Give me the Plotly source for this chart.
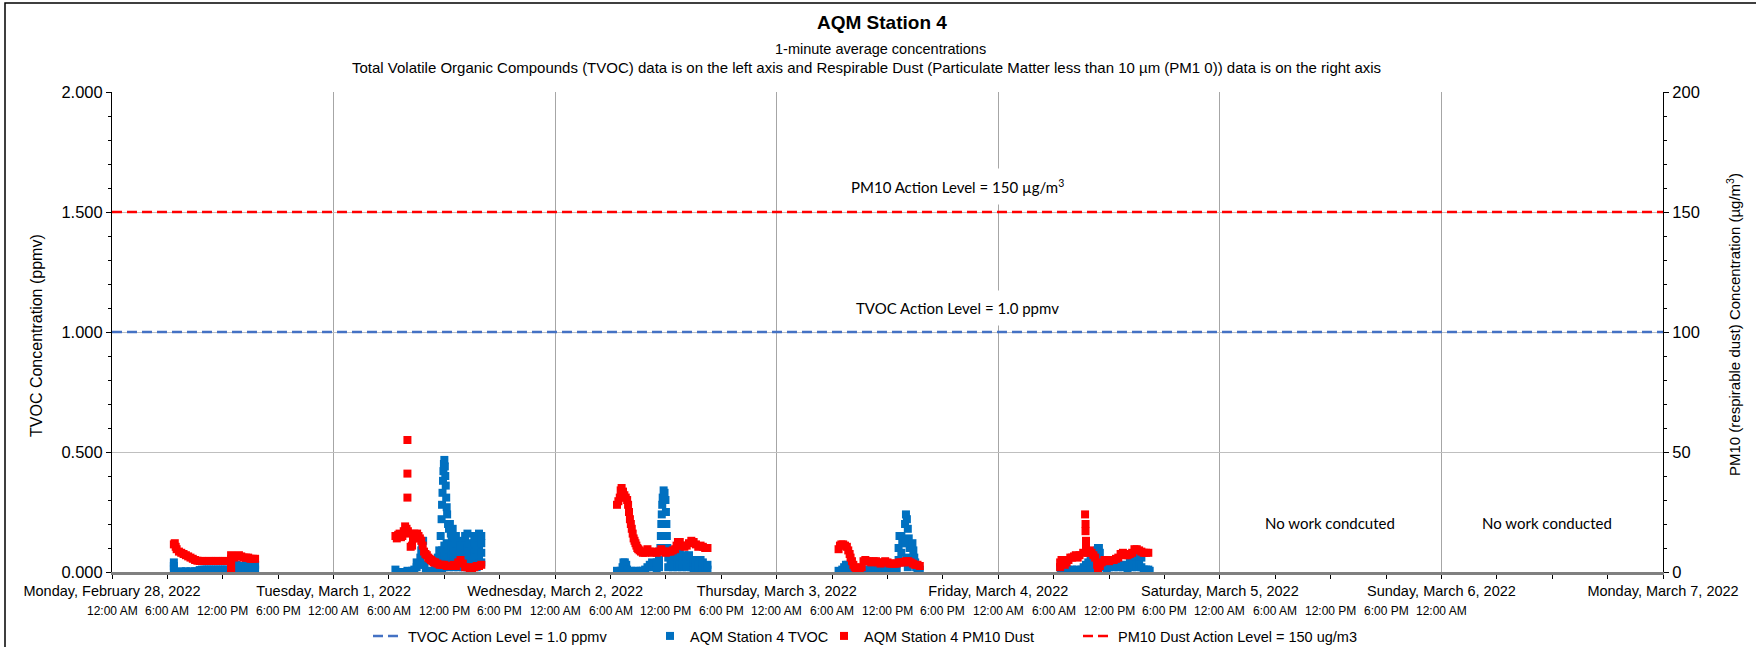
import pandas as pd
import plotly.graph_objects as go

# ---------------- data (hours after each day's midnight) ----------------
day_labels = ["Monday, February 28, 2022", "Tuesday, March 1, 2022", "Wednesday, March 2, 2022",
              "Thursday, March 3, 2022", "Friday, March 4, 2022", "Saturday, March 5, 2022",
              "Sunday, March 6, 2022", "Monday, March 7, 2022"]
time_labels = ["12:00 AM", "6:00 AM", "12:00 PM", "6:00 PM"]

tvoc_action_level = 1.0
pm10_action_level = 150

# Feb 28
tvoc_d0_h = [6.7, 6.7, 6.7, 6.85, 7.0, 7.25, 7.5, 7.75, 8.0, 8.25, 8.5, 8.75, 9.0, 9.25, 9.5, 9.75, 10.0, 10.25,
             10.5, 10.75, 11.0, 11.25, 11.5, 11.75, 12.0, 12.25, 12.5, 12.75, 13.0, 13.0, 13.25, 13.5, 13.5, 13.75,
             14.0, 14.0, 14.25, 14.5, 14.5, 14.75, 15.0, 15.0, 15.25, 15.5, 15.5]
tvoc_d0_v = [0.04, 0.025, 0.01, 0.0, 0.0, 0.0, 0.003, 0.0, 0.003, 0.0, 0.003, 0.0, 0.003, 0.003, 0.008, 0.01, 0.01,
             0.01, 0.01, 0.01, 0.01, 0.01, 0.01, 0.01, 0.01, 0.01, 0.01, 0.008, 0.03, 0.01, 0.02, 0.005, 0.03, 0.015,
             0.025, 0.005, 0.02, 0.01, 0.03, 0.02, 0.005, 0.03, 0.015, 0.01, 0.03]
pm10_d0_h = [6.7, 6.8, 6.9, 7.0, 7.25, 7.5, 7.75, 8.0, 8.25, 8.5, 8.75, 9.0, 9.25, 9.5, 9.75, 10.0, 10.25, 10.5,
             10.75, 11.0, 11.25, 11.5, 11.75, 12.0, 12.25, 12.5, 12.9, 12.9, 12.9, 12.9, 12.9, 12.9, 13.0, 13.25,
             13.5, 13.75, 14.0, 14.25, 14.5, 14.75, 15.0, 15.25, 15.5]
pm10_d0_v = [11.5, 12, 10.5, 9.5, 8.5, 8, 7.5, 7, 6.5, 6, 5.5, 5, 4.7, 4.6, 4.6, 4.6, 4.6, 4.6, 4.6, 4.6, 4.6, 4.6,
             4.6, 4.6, 4.6, 4.6, 0, 1, 2.5, 4, 5.5, 7, 6.5, 6, 6.5, 7, 6.5, 6, 6, 6, 5.5, 5.5, 5.5]

# Mar 1
tvoc_d1_h = [6.7, 6.85, 7.0, 7.25, 7.5, 7.75, 8.0, 8.25, 8.5, 8.75, 9.0, 9.0, 9.25, 9.4, 9.5, 9.6, 9.7, 9.75, 9.85,
             10.0, 10.25, 10.5, 10.75, 11.0, 11.2, 11.3, 11.45, 11.6, 11.7, 11.75, 11.8, 11.85, 11.9, 11.95, 12.0,
             12.05, 12.1, 12.15, 12.2, 12.25, 12.3, 12.4, 12.5, 12.6, 12.7, 12.8, 12.9, 13.0, 13.1,
             11.5, 11.5, 11.75, 11.75, 11.75, 12.0, 12.0, 12.0, 12.25, 12.25, 12.25, 12.5, 12.5, 12.5,
             12.75, 12.75, 12.75, 13.0, 13.0, 13.0, 13.25, 13.25, 13.25, 13.25, 13.5, 13.5, 13.5,
             13.75, 13.75, 13.75, 14.0, 14.0, 14.0, 14.0, 14.25, 14.25, 14.25, 14.25, 14.5, 14.5, 14.5, 14.5,
             14.75, 14.75, 14.75, 15.0, 15.0, 15.0, 15.25, 15.25, 15.25, 15.25, 15.5, 15.5, 15.5, 15.5,
             15.75, 15.75, 15.75, 15.75, 16.0, 16.0, 16.0, 16.0]
tvoc_d1_v = [0.01, 0.0, 0.0, 0.0, 0.0, 0.0, 0.005, 0.0, 0.005, 0.01, 0.02, 0.04, 0.03, 0.06, 0.09, 0.12, 0.13, 0.08,
             0.03, 0.0, 0.0, 0.005, 0.0, 0.01, 0.03, 0.06, 0.09, 0.15, 0.22, 0.28, 0.33, 0.38, 0.42, 0.45, 0.467,
             0.44, 0.4, 0.36, 0.31, 0.27, 0.24, 0.2, 0.18, 0.2, 0.16, 0.14, 0.18, 0.15, 0.12,
             0.02, 0.06, 0.01, 0.05, 0.09, 0.02, 0.07, 0.11, 0.03, 0.08, 0.12, 0.02, 0.06, 0.1,
             0.03, 0.07, 0.11, 0.02, 0.06, 0.1, 0.03, 0.07, 0.12, 0.15, 0.02, 0.06, 0.1,
             0.03, 0.07, 0.11, 0.02, 0.05, 0.09, 0.13, 0.03, 0.07, 0.11, 0.15, 0.02, 0.06, 0.1, 0.16,
             0.03, 0.07, 0.12, 0.02, 0.06, 0.1, 0.03, 0.08, 0.12, 0.15, 0.02, 0.06, 0.1, 0.15,
             0.03, 0.07, 0.11, 0.16, 0.04, 0.08, 0.12, 0.15]
pm10_d1_h = [6.7, 6.85, 7.0, 7.15, 7.3, 7.45, 7.6, 7.75, 7.9, 8.0, 8.0, 8.0, 8.05, 8.2, 8.35, 8.5, 8.6, 8.75, 8.9,
             9.05, 9.2, 9.35, 9.5, 9.65, 9.8, 9.95, 10.1, 10.25, 10.4, 10.55, 10.7, 10.85, 11.0, 11.25, 11.5, 11.75,
             12.0, 12.25, 12.5, 12.75, 13.0, 13.25, 13.5, 13.75, 14.0, 14.25, 14.5, 14.75, 15.0, 15.25, 15.5, 15.75,
             16.0]
pm10_d1_v = [15, 14, 15.5, 16, 14.5, 15, 17, 19, 18, 55, 41, 31, 17, 16, 10.5, 11, 14, 16, 15.5, 16, 15, 14, 13, 11,
             8.5, 7.5, 7, 6, 5.5, 5, 4.5, 4, 4, 3.5, 3, 3, 3, 2.5, 2.5, 2.5, 3, 2.5, 4, 5, 3.5, 2, 2, 1.5, 1.5, 2,
             2.5, 2.5, 3]

# Mar 2
tvoc_d2_h = [6.7, 6.9, 7.1, 7.3, 7.4, 7.55, 7.7, 7.8, 8.0, 8.25, 8.5, 8.75, 9.0, 9.25, 9.5, 9.75, 10.0, 10.25, 10.5,
             10.5, 10.75, 11.0, 11.0, 11.25, 11.25, 11.4, 11.45, 11.5, 11.55, 11.6, 11.65, 11.75, 11.85, 11.95, 12.0,
             12.05, 12.1, 12.15, 12.25, 12.25, 12.5, 12.5, 12.75, 12.75, 13.0, 13.0, 13.25, 13.25, 13.5, 13.5, 13.75,
             13.75, 14.0, 14.0, 14.25, 14.25, 14.5, 14.5, 14.75, 14.75, 15.0, 15.0, 15.25, 15.25, 15.5, 15.5, 15.75,
             15.75, 16.0, 16.0, 16.25, 16.5, 16.5]
tvoc_d2_v = [0.005, 0.0, 0.005, 0.02, 0.04, 0.04, 0.03, 0.01, 0.0, 0.005, 0.0, 0.005, 0.0, 0.005, 0.005, 0.01, 0.02,
             0.03, 0.02, 0.04, 0.03, 0.01, 0.04, 0.02, 0.05, 0.1, 0.15, 0.2, 0.24, 0.28, 0.31, 0.34, 0.33, 0.3, 0.25,
             0.2, 0.15, 0.1, 0.06, 0.02, 0.03, 0.07, 0.02, 0.06, 0.03, 0.07, 0.02, 0.06, 0.03, 0.08, 0.02, 0.06, 0.03,
             0.07, 0.02, 0.06, 0.03, 0.07, 0.02, 0.05, 0.01, 0.04, 0.02, 0.05, 0.01, 0.03, 0.02, 0.05, 0.01, 0.04,
             0.02, 0.01, 0.03]
pm10_d2_h = [6.7, 6.85, 7.0, 7.1, 7.2, 7.35, 7.5, 7.65, 7.8, 7.9, 8.0, 8.1, 8.2, 8.3, 8.4, 8.5, 8.6, 8.7, 8.8, 8.9,
             9.0, 9.15, 9.3, 9.5, 9.75, 10.0, 10.25, 10.5, 10.75, 11.0, 11.25, 11.5, 11.75, 12.0, 12.25, 12.5, 12.75,
             13.0, 13.15, 13.3, 13.5, 13.75, 14.0, 14.25, 14.5, 14.75, 15.0, 15.25, 15.5, 15.75, 16.0, 16.25, 16.5]
pm10_d2_v = [28, 29.5, 31, 34, 35, 33.5, 32, 31, 30, 28, 25, 22, 20, 18, 16, 14, 13, 12, 11, 10, 9.5, 9, 8.5, 8, 8,
             9.5, 8.5, 8, 8.5, 8, 8.5, 9.5, 8.5, 8, 8.5, 8.5, 9, 9.5, 11, 12.5, 12.5, 11, 10.5, 11, 12, 13, 12.5,
             11.5, 10.5, 11, 10.5, 10, 10]

# Mar 3
tvoc_d3_h = [6.7, 6.9, 7.1, 7.3, 7.5, 7.7, 7.85, 8.0, 8.25, 8.5, 8.75, 9.0, 9.25, 9.5, 9.75, 10.0, 10.25, 10.5,
             10.75, 11.0, 11.25, 11.5, 11.75, 12.0, 12.25, 12.5, 12.75, 13.0, 13.2, 13.2, 13.3, 13.5, 13.5, 13.6,
             13.7, 13.9, 14.0, 14.1, 14.2, 14.3, 14.4, 14.0, 14.1, 14.2, 14.5, 14.7, 14.8, 14.9, 15.0, 15.1, 15.25,
             15.5]
tvoc_d3_v = [0.005, 0.0, 0.01, 0.02, 0.03, 0.03, 0.01, 0.0, 0.005, 0.0, 0.005, 0.0, 0.005, 0.0, 0.01, 0.01, 0.015,
             0.01, 0.015, 0.01, 0.02, 0.01, 0.015, 0.01, 0.01, 0.015, 0.01, 0.01, 0.05, 0.1, 0.15, 0.15, 0.08, 0.12,
             0.04, 0.2, 0.24, 0.22, 0.18, 0.14, 0.1, 0.12, 0.06, 0.02, 0.05, 0.12, 0.09, 0.06, 0.04, 0.02, 0.01,
             0.01]
pm10_d3_h = [6.7, 6.85, 7.0, 7.2, 7.4, 7.6, 7.75, 7.9, 8.0, 8.15, 8.3, 8.45, 8.6, 8.8, 9.0, 9.2, 9.4, 9.6, 9.8,
             10.0, 10.25, 10.5, 10.75, 11.0, 11.25, 11.5, 11.75, 12.0, 12.25, 12.5, 12.75, 13.0, 13.25, 13.5, 13.75,
             14.0, 14.25, 14.5, 14.75, 15.0, 15.25, 15.5]
pm10_d3_v = [9.5, 11, 11.5, 11.5, 11, 10.5, 9, 7.5, 6, 4.5, 3, 2, 1.5, 1.5, 1.5, 2, 4.5, 5, 4.5, 4.5, 4, 4.5, 4.5,
             4, 3.5, 4, 4.5, 4, 3.5, 3.5, 3.5, 3.5, 4, 4, 4, 4.5, 4.5, 4, 3.5, 3, 3, 2.5]

# Mar 4
tvoc_d4_h = [6.7, 6.8, 7.0, 7.25, 7.5, 7.75, 8.0, 8.25, 8.5, 8.75, 9.0, 9.25, 9.5, 9.75, 10.0, 10.25, 10.5, 10.6,
             10.7, 10.8, 10.9, 11.0, 11.1, 11.25, 11.5, 11.75, 12.0, 12.25, 12.5, 12.75, 13.0, 13.25, 13.5, 13.75,
             14.0, 14.25, 14.5, 14.75, 15.0, 15.25, 15.5, 15.75, 16.0, 16.25, 16.4,
             9.5, 10.0, 10.5, 11.0, 14.0, 14.5, 14.75, 15.0, 15.25, 15.5]
tvoc_d4_v = [0.02, 0.005, 0.01, 0.005, 0.01, 0.005, 0.01, 0.005, 0.01, 0.005, 0.01, 0.02, 0.03, 0.04, 0.05, 0.04,
             0.03, 0.06, 0.09, 0.1, 0.1, 0.08, 0.05, 0.03, 0.02, 0.01, 0.02, 0.025, 0.02, 0.03, 0.02, 0.03, 0.02,
             0.025, 0.03, 0.04, 0.05, 0.06, 0.06, 0.05, 0.06, 0.01, 0.01, 0.01, 0.005,
             0.005, 0.01, 0.01, 0.02, 0.01, 0.02, 0.03, 0.02, 0.03, 0.02]
pm10_d4_h = [6.7, 6.7, 6.85, 7.0, 7.2, 7.4, 7.6, 7.8, 8.0, 8.2, 8.4, 8.6, 8.8, 9.2, 9.4, 9.45, 9.45, 9.5, 9.5, 9.7,
             9.9, 10.1, 10.3, 10.5, 10.7, 10.8, 11.0, 11.2, 11.5, 11.75, 12.0, 12.25, 12.5, 12.75, 13.0, 13.25, 13.5,
             13.75, 14.0, 14.25, 14.5, 14.75, 15.0, 15.25, 15.5, 15.75, 16.0, 16.25]
pm10_d4_v = [4, 2, 5, 4.5, 3, 4, 5, 6, 6, 6.5, 7, 6, 7, 8, 24, 20, 17, 13, 10, 8, 9, 8, 7, 6, 3, 1.5, 2.5, 4, 5, 5,
             4.5, 5, 5, 5.5, 6, 7.5, 8, 7, 7, 7.5, 8, 9.5, 9.5, 9, 8.5, 8, 8, 8]

tvoc_days = [(0, tvoc_d0_h, tvoc_d0_v), (1, tvoc_d1_h, tvoc_d1_v), (2, tvoc_d2_h, tvoc_d2_v),
             (3, tvoc_d3_h, tvoc_d3_v), (4, tvoc_d4_h, tvoc_d4_v)]
pm10_days = [(0, pm10_d0_h, pm10_d0_v), (1, pm10_d1_h, pm10_d1_v), (2, pm10_d2_h, pm10_d2_v),
             (3, pm10_d3_h, pm10_d3_v), (4, pm10_d4_h, pm10_d4_v)]

# ---------------- helpers ----------------
start = pd.Timestamp("2022-02-28")
end = pd.Timestamp("2022-03-07")


def stamps(day, hours):
    return [start + pd.Timedelta(days=day) + pd.Timedelta(hours=h) for h in hours]


def collect(days):
    xs, ys = [], []
    for d, h, v in days:
        xs += stamps(d, h)
        ys += v
    return xs, ys


tvoc_x, tvoc_y = collect(tvoc_days)
pm10_x, pm10_y = collect(pm10_days)

W, H = 1756, 647
PL, PR, PT, PB = 112, 1663, 92, 572


def px(x):
    return (x - PL) / (PR - PL)


def py(y):
    return (PB - y) / (PB - PT)


FONT = "Arial, Liberation Sans, sans-serif"
BLUE = "#0070C0"
RED = "#FF0000"

fig = go.Figure()
fig.add_trace(go.Scatter(x=[start, end], y=[tvoc_action_level] * 2, mode="lines",
                         name="TVOC Action Level = 1.0 ppmv", legend="legend",
                         line=dict(color="#4472C4", width=2.5, dash="10px,5px")))
fig.add_trace(go.Scatter(x=tvoc_x, y=tvoc_y, mode="markers", name="AQM Station 4 TVOC", legend="legend2",
                         marker=dict(symbol="square", size=8, color=BLUE, line=dict(width=0))))
fig.add_trace(go.Scatter(x=pm10_x, y=pm10_y, mode="markers", name="AQM Station 4 PM10 Dust", yaxis="y2",
                         legend="legend3",
                         marker=dict(symbol="square", size=8, color=RED, line=dict(width=0))))
fig.add_trace(go.Scatter(x=[start, end], y=[pm10_action_level] * 2, mode="lines", yaxis="y2",
                         name="PM10 Dust Action Level = 150 ug/m3", legend="legend4",
                         line=dict(color=RED, width=2.5, dash="10px,5px")))

day_ticks = [start + pd.Timedelta(days=i) for i in range(len(day_labels))]


def leg(text_x):
    return dict(orientation="h", x=px(text_x - 42), xanchor="left", y=py(636), yanchor="middle",
                font=dict(size=14.5), bgcolor="rgba(0,0,0,0)", borderwidth=0)


fig.update_layout(
    width=W, height=H,
    margin=dict(l=PL, r=W - PR, t=PT, b=H - PB, pad=0, autoexpand=False),
    paper_bgcolor="white", plot_bgcolor="white",
    font=dict(family=FONT, size=14, color="black"),
    showlegend=True,
    legend=leg(410), legend2=leg(692), legend3=leg(866), legend4=leg(1120),
    xaxis=dict(type="date", range=[start, end], tickvals=day_ticks, ticktext=day_labels, automargin=False,
               tickfont=dict(size=14.5), ticks="outside", ticklen=4, tickcolor="black",
               showgrid=True, gridcolor="#A6A6A6", gridwidth=1,
               showline=True, linecolor="#808080", linewidth=2.5, zeroline=False,
               minor=dict(dtick=6 * 3600 * 1000, ticks="outside", ticklen=4, tickcolor="black",
                          showgrid=False)),
    yaxis=dict(range=[0, 2], tickvals=[0, 0.5, 1.0, 1.5, 2.0], tickformat=".3f", automargin=False,
               tickfont=dict(size=16.5), ticks="outside", ticklen=5, tickcolor="black",
               showgrid=True, gridcolor="#BFBFBF", gridwidth=1, zeroline=False,
               showline=True, linecolor="black", linewidth=1,
               minor=dict(dtick=0.1, ticks="outside", ticklen=3, tickcolor="black", showgrid=False)),
    yaxis2=dict(range=[0, 200], tickvals=[0, 50, 100, 150, 200], overlaying="y", side="right",
                automargin=False,
                tickfont=dict(size=16.5), ticks="outside", ticklen=5, tickcolor="black",
                showgrid=False, zeroline=False, showline=True, linecolor="black", linewidth=1,
                minor=dict(dtick=10, ticks="outside", ticklen=3, tickcolor="black")),
)

ann = []
ann.append(dict(text="<b>AQM Station 4</b>", x=px(882), y=py(22), font=dict(size=19)))
ann.append(dict(text="1-minute average concentrations", x=px(880), y=py(49), font=dict(size=14.5)))
ann.append(dict(text="Total Volatile Organic Compounds (TVOC) data is on the left axis and Respirable Dust "
                     "(Particulate Matter less than 10 µm (PM1 0)) data is on the right axis",
                x=px(866), y=py(67), font=dict(size=15)))
ann.append(dict(text="TVOC Concentration (ppmv)", x=px(36), y=py(336), textangle=-90, font=dict(size=16)))
ann.append(dict(text="PM10 (respirable dust) Concentration (µg/m<sup>3</sup>)", x=px(1733), y=py(325),
                textangle=-90, font=dict(size=15)))
for a in ann:
    a.update(xref="paper", yref="paper", showarrow=False, xanchor="center", yanchor="middle")
    fig.add_annotation(**a)

# time-of-day labels under each 6-hour tick
n_time = 6 * 4 + 1
for i in range(n_time):
    fig.add_annotation(x=start + pd.Timedelta(hours=6 * i), y=py(611), xref="x", yref="paper",
                       text=time_labels[i % 4], showarrow=False, font=dict(size=12),
                       xanchor="center", yanchor="middle")

CAL = "Lato, Carlito, Calibri, sans-serif"
for text, xx, yy in [("PM10 Action Level = 150 µg/m<sup>3</sup>", 957, 186),
                     ("TVOC Action Level = 1.0 ppmv", 958, 308)]:
    fig.add_annotation(text=text, x=px(xx), y=py(yy), xref="paper", yref="paper", showarrow=False,
                       font=dict(family=CAL, size=15), bgcolor="white", borderpad=8,
                       xanchor="center", yanchor="middle")
for text, xx in [("No work condcuted", 1330), ("No work conducted", 1547)]:
    fig.add_annotation(text=text, x=px(xx), y=py(523), xref="paper", yref="paper", showarrow=False,
                       font=dict(family=CAL, size=15), xanchor="center", yanchor="middle")

# chart-area frame
fig.add_shape(type="rect", xref="paper", yref="paper", x0=px(5), x1=px(1800), y0=py(700), y1=py(3),
              line=dict(color="black", width=1.5), fillcolor="rgba(0,0,0,0)", layer="above")

fig.write_html("out.html", config={"displayModeBar": False},
               post_script="document.body.style.margin='0px';document.body.style.overflow='hidden';")
